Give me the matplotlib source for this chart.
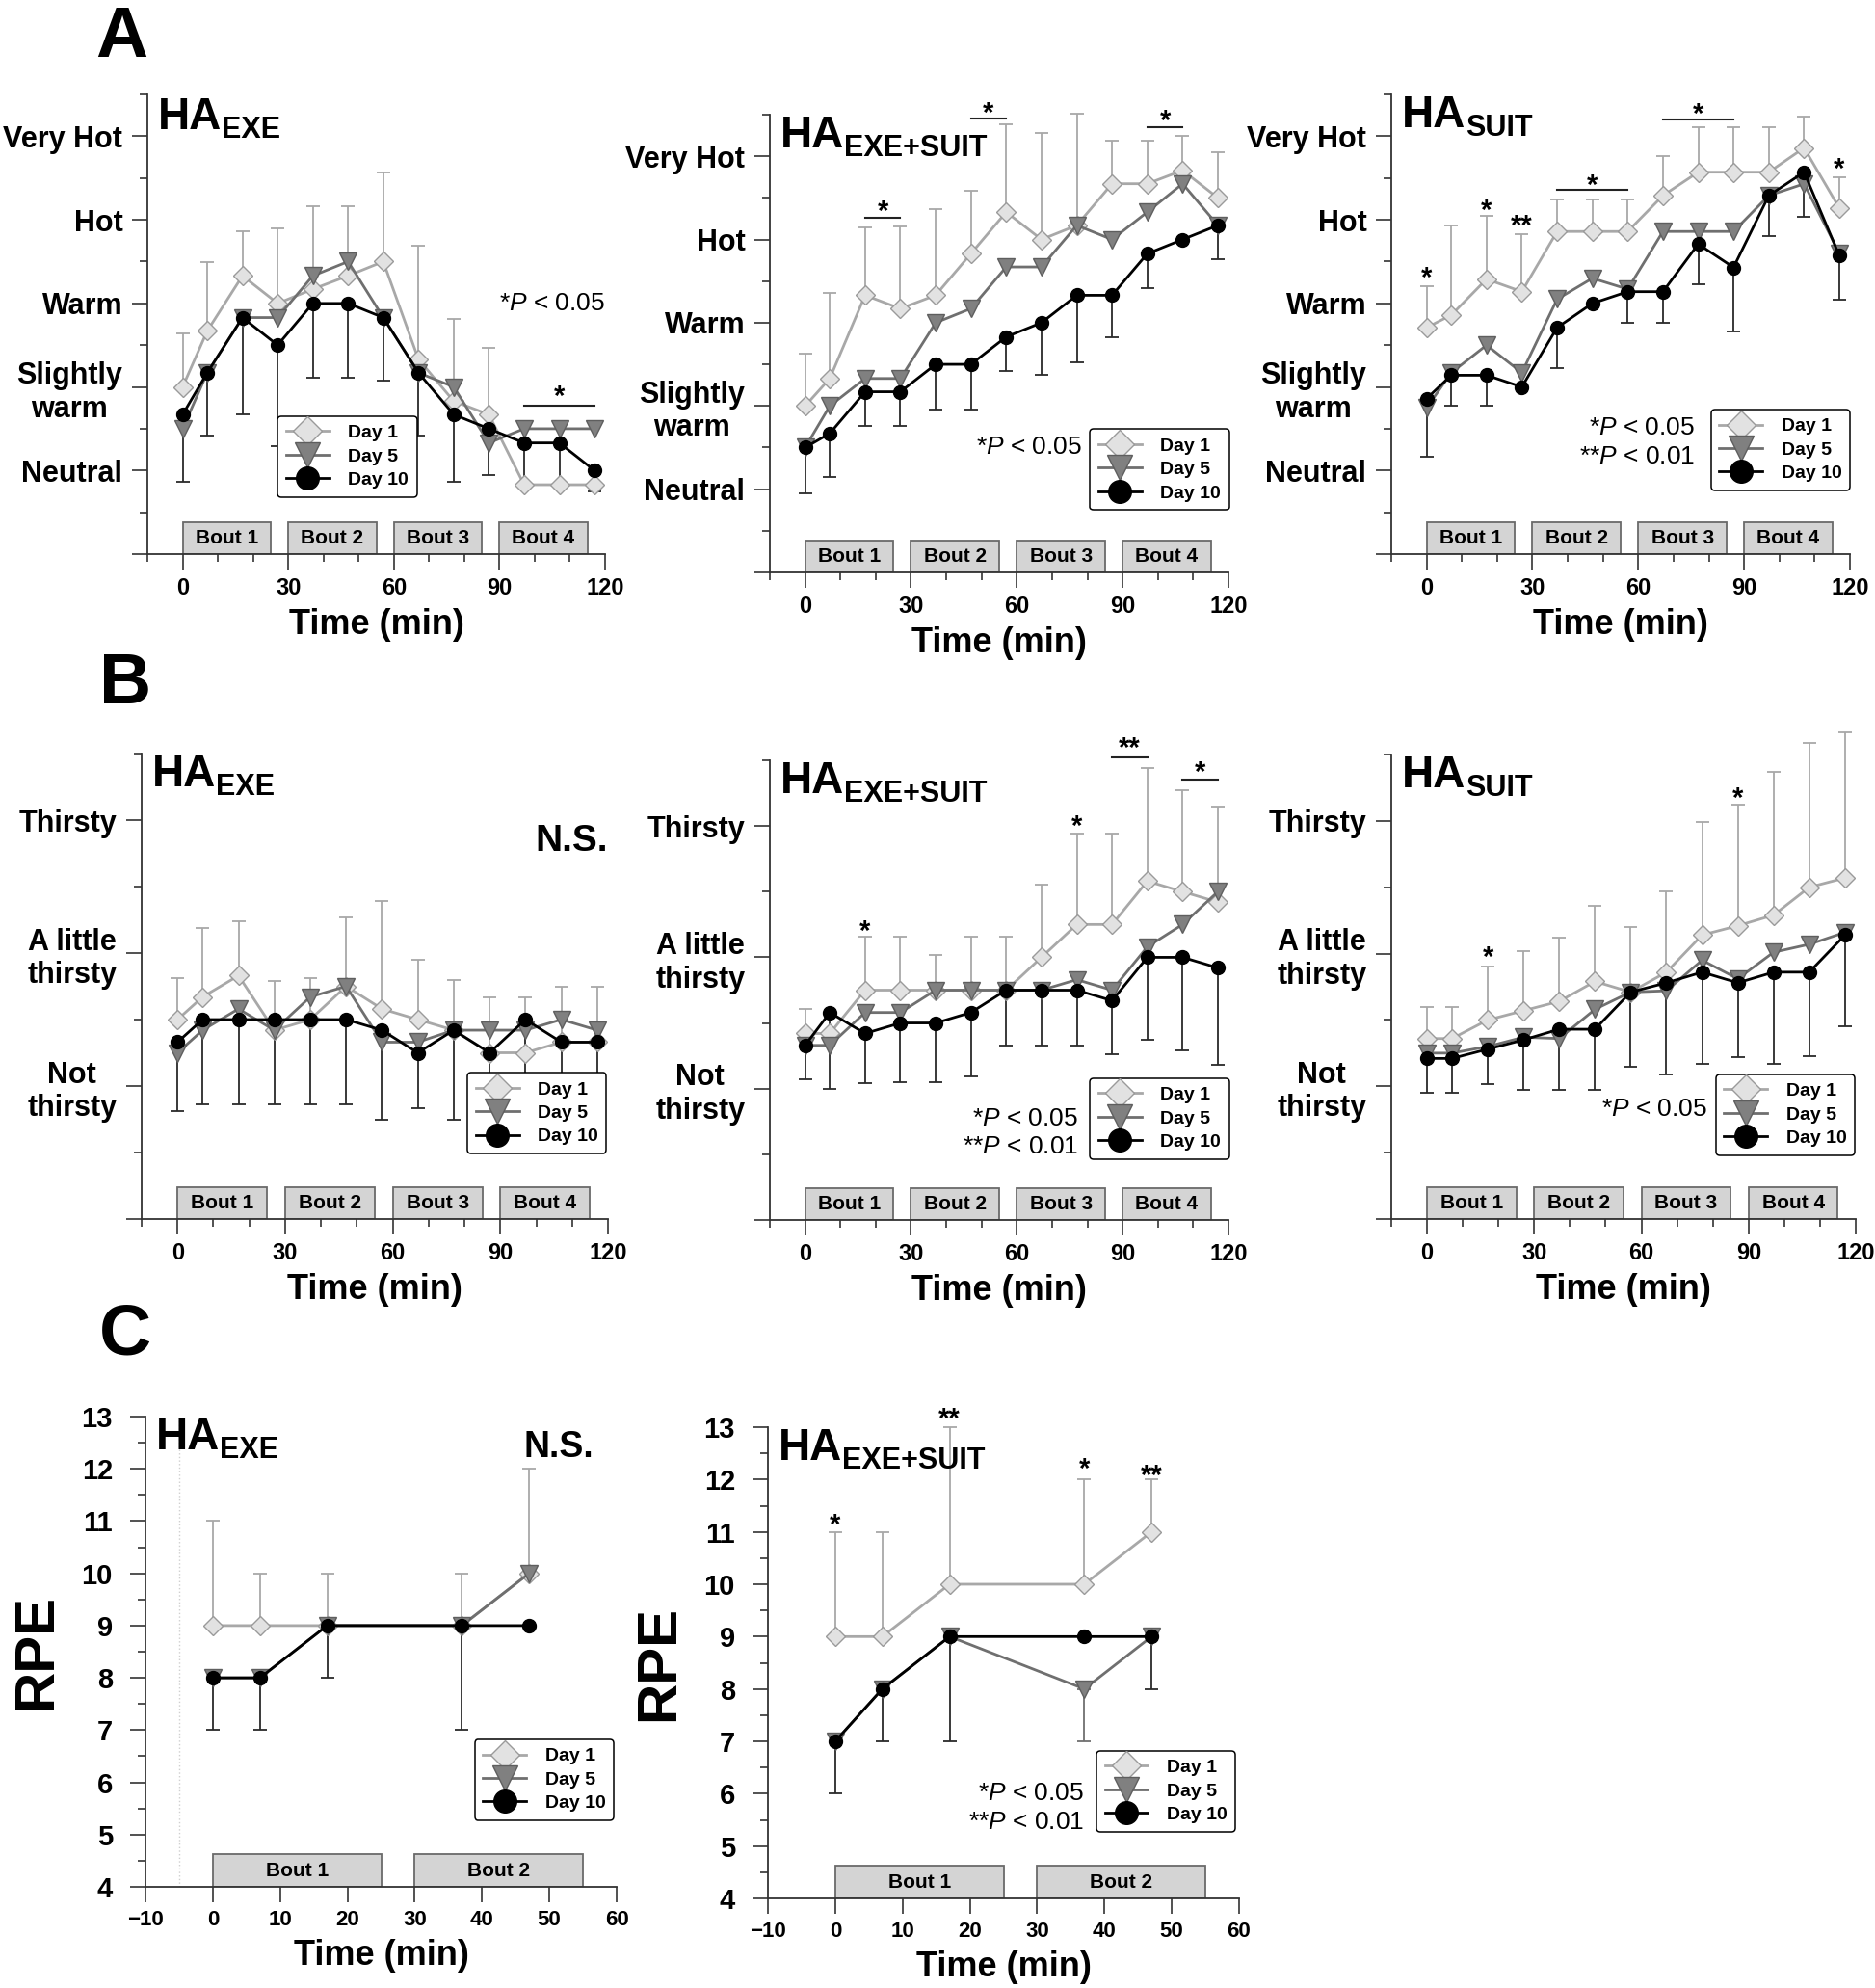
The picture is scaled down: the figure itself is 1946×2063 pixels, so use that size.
import matplotlib
matplotlib.use("Agg")
import matplotlib.pyplot as plt
from matplotlib.lines import Line2D
from matplotlib.patches import Rectangle
import numpy as np

plt.rcParams["font.family"] = "Liberation Sans"
plt.rcParams["mathtext.fontset"] = "custom"
plt.rcParams["mathtext.rm"] = "Liberation Sans"
plt.rcParams["mathtext.it"] = "Liberation Sans:italic"

# ---- time axes -------------------------------------------------------------
t_long = [0, 7, 17, 27, 37, 47, 57, 67, 77, 87, 97, 107, 117]
t_rpe = [0, 7, 17, 37, 47]
bouts_long = [0, 30, 60, 90]
bouts_rpe = [0, 30]
BOUT_LEN = 25

sens_labels = ["Neutral", "Slightly\nwarm", "Warm", "Hot", "Very Hot"]   # 0..4
thirst_labels = ["Not\nthirsty", "A little\nthirsty", "Thirsty"]         # 0..2

# ---- A: thermal sensation ---------------------------------------------------
a_exe_d1 = [1.0, 1.67, 2.33, 2.0, 2.17, 2.33, 2.5, 1.33, 0.83, 0.67, -0.17, -0.17, -0.17]
a_exe_d5 = [0.5, 1.17, 1.83, 1.83, 2.33, 2.5, 1.83, 1.17, 1.0, 0.33, 0.5, 0.5, 0.5]
a_exe_d10 = [0.67, 1.17, 1.83, 1.5, 2.0, 2.0, 1.83, 1.17, 0.67, 0.5, 0.33, 0.33, 0.0]
a_exe_sd1 = [0.64, 0.82, 0.53, 0.9, 0.99, 0.83, 1.07, 1.36, 0.98, 0.8, 0, 0, 0]
a_exe_sd10 = [0.81, 0.75, 1.16, 1.21, 0.89, 0.89, 0.75, 0.75, 0.81, 0.55, 0.5, 0.5, 0.25]

a_es_d1 = [1.0, 1.33, 2.33, 2.17, 2.33, 2.83, 3.33, 3.0, 3.17, 3.67, 3.67, 3.83, 3.5]
a_es_d5 = [0.5, 1.0, 1.33, 1.33, 2.0, 2.17, 2.67, 2.67, 3.17, 3.0, 3.33, 3.67, 3.17]
a_es_d10 = [0.5, 0.67, 1.17, 1.17, 1.5, 1.5, 1.83, 2.0, 2.33, 2.33, 2.83, 3.0, 3.17]
a_es_sd1 = [0.63, 1.03, 0.82, 0.99, 1.03, 0.75, 1.05, 1.28, 1.34, 0.52, 0.52, 0.41, 0.55]
a_es_sd10 = [0.55, 0.52, 0.41, 0.41, 0.54, 0.54, 0.41, 0.63, 0.81, 0.51, 0.41, 0.0, 0.41]

a_suit_d1 = [1.71, 1.86, 2.29, 2.14, 2.86, 2.86, 2.86, 3.29, 3.57, 3.57, 3.57, 3.86, 3.14]
a_suit_d5 = [0.75, 1.17, 1.5, 1.17, 2.05, 2.3, 2.17, 2.86, 2.86, 2.86, 3.29, 3.43, 2.6]
a_suit_d10 = [0.86, 1.14, 1.14, 1.0, 1.71, 2.0, 2.14, 2.14, 2.71, 2.43, 3.29, 3.57, 2.57]
a_suit_sd1 = [0.49, 1.07, 0.76, 0.69, 0.38, 0.38, 0.38, 0.47, 0.54, 0.54, 0.54, 0.37, 0.37]
a_suit_sd10 = [0.69, 0.37, 0.37, 0.0, 0.49, 0.0, 0.37, 0.37, 0.48, 0.77, 0.48, 0.53, 0.53]

# ---- B: thirst sensation -----------------------------------------------------
b_exe_d1 = [0.5, 0.67, 0.83, 0.42, 0.5, 0.75, 0.58, 0.5, 0.42, 0.25, 0.25, 0.33, 0.33]
b_exe_d5 = [0.25, 0.42, 0.58, 0.42, 0.67, 0.75, 0.33, 0.33, 0.42, 0.42, 0.42, 0.5, 0.42]
b_exe_d10 = [0.33, 0.5, 0.5, 0.5, 0.5, 0.5, 0.42, 0.25, 0.42, 0.25, 0.5, 0.33, 0.33]
b_exe_sd1 = [0.31, 0.52, 0.41, 0.37, 0.31, 0.52, 0.81, 0.45, 0.38, 0.42, 0.42, 0.42, 0.42]
b_exe_sd10 = [0.52, 0.64, 0.64, 0.64, 0.64, 0.64, 0.67, 0.42, 0.67, 0.45, 0.64, 0.52, 0.52]

b_es_d1 = [0.42, 0.42, 0.75, 0.75, 0.75, 0.75, 0.75, 1.0, 1.25, 1.25, 1.58, 1.5, 1.42]
b_es_d5 = [0.33, 0.33, 0.58, 0.58, 0.75, 0.75, 0.75, 0.75, 0.83, 0.75, 1.08, 1.25, 1.5]
b_es_d10 = [0.33, 0.58, 0.42, 0.5, 0.5, 0.58, 0.75, 0.75, 0.75, 0.67, 1.0, 1.0, 0.92]
b_es_sd1 = [0.19, 0.0, 0.41, 0.41, 0.27, 0.41, 0.41, 0.55, 0.69, 0.69, 0.86, 0.77, 0.73]
b_es_sd10 = [0.26, 0.58, 0.38, 0.45, 0.45, 0.49, 0.42, 0.42, 0.42, 0.41, 0.63, 0.71, 0.74]

b_suit_d1 = [0.36, 0.36, 0.5, 0.57, 0.64, 0.79, 0.71, 0.86, 1.14, 1.21, 1.29, 1.5, 1.57]
b_suit_d5 = [0.25, 0.25, 0.3, 0.37, 0.36, 0.58, 0.71, 0.72, 0.95, 0.81, 1.01, 1.07, 1.16]
b_suit_d10 = [0.21, 0.21, 0.28, 0.35, 0.43, 0.43, 0.71, 0.78, 0.86, 0.78, 0.86, 0.86, 1.14]
b_suit_sd1 = [0.24, 0.24, 0.4, 0.45, 0.48, 0.57, 0.49, 0.61, 0.85, 0.91, 1.08, 1.09, 1.1]
b_suit_sd10 = [0.26, 0.26, 0.26, 0.38, 0.46, 0.46, 0.56, 0.69, 0.69, 0.56, 0.69, 0.63, 0.69]

# ---- C: RPE ------------------------------------------------------------------
c_exe_d1 = [9, 9, 9, 9, 10]
c_exe_d5 = [8, 8, 9, 9, 10]
c_exe_d10 = [8, 8, 9, 9, 9]
c_exe_sd1 = [2, 1, 1, 1, 2]
c_exe_sd10 = [1, 1, 1, 2, 0]

c_es_d1 = [9, 9, 10, 10, 11]
c_es_d5 = [7, 8, 9, 8, 9]
c_es_d10 = [7, 8, 9, 9, 9]
c_es_sd1 = [2, 2, 3, 2, 1]
c_es_sd10 = [1, 1, 2, 0, 1]
c_es_sd5 = [0, 0, 0, 1, 0]

# ---- styles --------------------------------------------------------------------
D1 = dict(color="#a8a8a8", marker="D", mfc="#e2e2e2", mec="#9a9a9a", ms=10, lw=2.0)
D5 = dict(color="#6f6f6f", marker="v", mfc="#808080", mec="#5e5e5e", ms=13, lw=2.0)
D10 = dict(color="black", marker="o", mfc="black", mec="black", ms=10, lw=2.0)
W, H = 1946, 2063


def add_ax(fig, l, r, t, b):
    return fig.add_axes([l / W, 1 - b / H, (r - l) / W, (b - t) / H])


def errs(ax, t, y, sd, up, color, z):
    t, y, sd = np.array(t, float), np.array(y, float), np.array(sd, float)
    m = sd > 0
    zero = np.zeros(m.sum())
    yerr = [zero, sd[m]] if up else [sd[m], zero]
    eb = ax.errorbar(t[m], y[m], yerr=yerr, fmt="none", ecolor=color, elinewidth=1.3,
                     capsize=5, capthick=1.3, zorder=z)
    for art in eb.lines[1] + eb.lines[2]:
        art.set_clip_on(False)


def draw(ax, t, d1, d5, d10, sd1, sd10, sd5=None):
    errs(ax, t, d1, sd1, True, "#a8a8a8", 1)
    errs(ax, t, d10, sd10, False, "#2a2a2a", 1)
    if sd5 is not None:
        errs(ax, t, d5, sd5, False, "#6f6f6f", 1)
    ax.plot(t, d1, zorder=3, **D1)
    ax.plot(t, d5, zorder=4, **D5)
    ax.plot(t, d10, zorder=5, **D10)


def bouts(ax, starts, ymin, h):
    for i, b in enumerate(starts):
        ax.add_patch(Rectangle((b, ymin), BOUT_LEN, h, facecolor="#d4d4d4",
                               edgecolor="#6a6a6a", lw=1.3, zorder=2))
        ax.text(b + BOUT_LEN / 2, ymin + h / 2, f"Bout {i + 1}", ha="center", va="center",
                fontsize=15, fontweight="bold", zorder=3)


def title(ax, sub, y=1.0):
    txt = ax.text(0.022, y, "HA", transform=ax.transAxes, fontsize=33, fontweight="bold",
                  va="top", ha="left")
    ax.annotate(sub, xy=(1, 0), xycoords=txt, xytext=(0, 1), textcoords="offset points",
                fontsize=22, fontweight="bold", va="baseline", ha="left")


def legend(ax, x, y):
    hs = [Line2D([], [], color=D1["color"], marker="D", mfc=D1["mfc"], mec=D1["mec"], ms=15, lw=2),
          Line2D([], [], color=D5["color"], marker="v", mfc=D5["mfc"], mec=D5["mec"], ms=19, lw=2),
          Line2D([], [], color="black", marker="o", mfc="black", ms=17, lw=2)]
    lg = ax.legend(hs, ["Day 1", "Day 5", "Day 10"], loc="upper left", bbox_to_anchor=(x, y),
                   bbox_transform=ax.transData, prop=dict(weight="bold", size=14),
                   handlelength=2.3, labelspacing=0.35, borderpad=0.45, handletextpad=1.0,
                   fancybox=True, framealpha=1, edgecolor="black", borderaxespad=0)
    lg.get_frame().set_linewidth(1.1)


def star(ax, x, y, s):
    ax.annotate(s, (x, y), xytext=(0, -11), textcoords="offset points", ha="center",
                va="baseline", fontsize=21, fontweight="bold", annotation_clip=False)


def sigbar(ax, x0, x1, y, s, ys):
    ax.plot([x0, x1], [y, y], color="#222222", lw=1.5, clip_on=False)
    star(ax, (x0 + x1) / 2, ys, s)


def ptext(ax, x, y, s):
    ax.text(x, y, s, ha="right", va="center", fontsize=19)


def frame(ax, xlim, xmaj, xmin, ylim, ymaj, ylab, ymin, ylab_size, xlab_size, ypad=7):
    ax.set_xlim(*xlim)
    ax.set_ylim(*ylim)
    for s in ("top", "right"):
        ax.spines[s].set_visible(False)
    for s in ("left", "bottom"):
        ax.spines[s].set_linewidth(1.3)
        ax.spines[s].set_color("#333333")
    ax.set_xticks(xmaj)
    ax.set_xticks(xmin, minor=True)
    ax.set_yticks(ymaj)
    ax.set_yticklabels(ylab)
    ax.set_yticks(ymin, minor=True)
    ax.tick_params(which="major", length=11.5, width=1.2, color="#333333", direction="out")
    ax.tick_params(which="minor", length=6, width=1.2, color="#333333", direction="out")
    ax.tick_params(axis="y", which="major", labelsize=ylab_size, pad=ypad)
    ax.tick_params(axis="x", which="major", labelsize=xlab_size, pad=6)
    for lab in ax.get_yticklabels() + ax.get_xticklabels():
        lab.set_fontweight("bold")
        lab.set_multialignment("center")
    ax.set_xlabel("Time (min)", fontsize=26, fontweight="bold", labelpad=6)


fig = plt.figure(figsize=(W / 100, H / 100), dpi=100)

long_minor = [-10, 10, 20, 40, 50, 70, 80, 100, 110]
long_major = [0, 30, 60, 90, 120]

# ---------------- row A ----------------
a_boxes = [(153, 628, 98, 575), (799, 1275, 119, 594), (1444, 1920, 98, 575)]
a_sets = [
    ("EXE", a_exe_d1, a_exe_d5, a_exe_d10, a_exe_sd1, a_exe_sd10),
    ("EXE+SUIT", a_es_d1, a_es_d5, a_es_d10, a_es_sd1, a_es_sd10),
    ("SUIT", a_suit_d1, a_suit_d5, a_suit_d10, a_suit_sd1, a_suit_sd10),
]
a_axes = []
for box, (sub, d1, d5, d10, s1, s10) in zip(a_boxes, a_sets):
    ax = add_ax(fig, *box)
    frame(ax, (-10, 120), long_major, long_minor, (-1, 4.5), [-1, 0, 1, 2, 3, 4],
          [""] + sens_labels, [-0.5, 0.5, 1.5, 2.5, 3.5, 4.5], 22, 17)
    draw(ax, t_long, d1, d5, d10, s1, s10)
    bouts(ax, bouts_long, -1, 0.38)
    title(ax, sub, 0.995 if sub == "EXE" else 1.0)
    a_axes.append(ax)

ax = a_axes[0]
legend(ax, 27, 0.65)
ptext(ax, 120, 2.0, r"*$P$ < 0.05")
sigbar(ax, 97, 117, 0.77, "*", 0.96)

ax = a_axes[1]
legend(ax, 80.7, 0.72)
ptext(ax, 78.5, 0.5, r"*$P$ < 0.05")
sigbar(ax, 17, 27, 3.26, "*", 3.41)
sigbar(ax, 47, 57, 4.45, "*", 4.6)
sigbar(ax, 97, 107, 4.35, "*", 4.5)

ax = a_axes[2]
legend(ax, 80.6, 0.73)
ptext(ax, 76, 0.51, r"*$P$ < 0.05")
ptext(ax, 76, 0.17, r"**$P$ < 0.01")
sigbar(ax, 37, 57, 3.36, "*", 3.49)
sigbar(ax, 67, 87, 4.2, "*", 4.34)
star(ax, 0, 2.38, "*")
star(ax, 17, 3.19, "*")
star(ax, 27, 3.0, "**")
star(ax, 117, 3.69, "*")

# ---------------- row B ----------------
b_boxes = [(147, 631, 782, 1265), (799, 1275, 789, 1266), (1444, 1926, 783, 1265)]
b_sets = [
    ("EXE", b_exe_d1, b_exe_d5, b_exe_d10, b_exe_sd1, b_exe_sd10),
    ("EXE+SUIT", b_es_d1, b_es_d5, b_es_d10, b_es_sd1, b_es_sd10),
    ("SUIT", b_suit_d1, b_suit_d5, b_suit_d10, b_suit_sd1, b_suit_sd10),
]
b_axes = []
for box, (sub, d1, d5, d10, s1, s10) in zip(b_boxes, b_sets):
    ax = add_ax(fig, *box)
    frame(ax, (-10, 120), long_major, long_minor, (-1, 2.5), [-1, 0, 1, 2],
          [""] + thirst_labels, [-0.5, 0.5, 1.5, 2.5], 22, 17)
    draw(ax, t_long, d1, d5, d10, s1, s10)
    bouts(ax, bouts_long, -1, 0.24)
    title(ax, sub)
    b_axes.append(ax)

ax = b_axes[0]
legend(ax, 80.8, 0.1)
ax.text(120, 1.84, "N.S.", ha="right", va="center", fontsize=28, fontweight="bold")

ax = b_axes[1]
legend(ax, 80.7, 0.08)
ptext(ax, 77.5, -0.23, r"*$P$ < 0.05")
ptext(ax, 77.5, -0.44, r"**$P$ < 0.01")
star(ax, 17, 1.25, "*")
star(ax, 77, 2.05, "*")
sigbar(ax, 87, 97, 2.52, "**", 2.64)
sigbar(ax, 107, 117, 2.35, "*", 2.46)

ax = b_axes[2]
legend(ax, 80.8, 0.09)
ptext(ax, 78.4, -0.17, r"*$P$ < 0.05")
star(ax, 17, 1.02, "*")
star(ax, 87, 2.22, "*")

# ---------------- row C ----------------
c_boxes = [(151, 640, 1470, 1958), (797, 1286, 1481, 1970)]
c_sets = [
    ("EXE", c_exe_d1, c_exe_d5, c_exe_d10, c_exe_sd1, c_exe_sd10, None),
    ("EXE+SUIT", c_es_d1, c_es_d5, c_es_d10, c_es_sd1, c_es_sd10, c_es_sd5),
]
c_axes = []
for box, (sub, d1, d5, d10, s1, s10, s5) in zip(c_boxes, c_sets):
    ax = add_ax(fig, *box)
    frame(ax, (-10, 60), list(range(-10, 61, 10)), [], (4, 13), list(range(4, 14)),
          [str(v) for v in range(4, 14)], list(np.arange(4.5, 13, 1.0)), 21, 16, ypad=13)
    draw(ax, t_rpe, d1, d5, d10, s1, s10, s5)
    bouts(ax, bouts_rpe, 4, 0.62)
    title(ax, sub, 1.0)
    ax.set_ylabel("RPE", fontsize=42, fontweight="bold")
    ax.yaxis.set_label_coords(-0.175, 0.5)
    c_axes.append(ax)

ax = c_axes[0]
ax.axvline(-5, color="#cfcfcf", ls=":", lw=1.0, zorder=0)
legend(ax, 38.9, 6.82)
ax.text(56.6, 12.41, "N.S.", ha="right", va="center", fontsize=27, fontweight="bold")

ax = c_axes[1]
legend(ax, 38.8, 6.82)
ptext(ax, 37, 6.0, r"*$P$ < 0.05")
ptext(ax, 37, 5.45, r"**$P$ < 0.01")
star(ax, 0, 11.26, "*")
star(ax, 17, 13.28, "**")
star(ax, 37, 12.33, "*")
star(ax, 47, 12.2, "**")

# panel letters
for letter, (x, y) in zip("ABC", [(99, 59), (103, 730), (103, 1405)]):
    fig.text(x / W, 1 - y / H, letter, fontsize=54, fontweight="bold", va="baseline", ha="left")

fig.savefig("out.png", dpi=100)
